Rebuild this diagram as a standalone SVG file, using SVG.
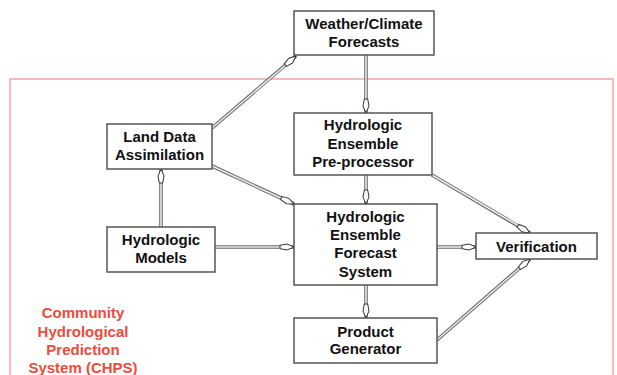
<svg xmlns="http://www.w3.org/2000/svg" width="617" height="375" viewBox="0 0 617 375">
<style>
.box{fill:#fff;stroke:#555;stroke-width:1.5}
.t{font-family:"Liberation Sans",Arial,sans-serif;font-weight:bold;font-size:15px;fill:#111;text-anchor:middle}
.r{fill:#ec4b3c}
.o{stroke:#6a6a6a;stroke-width:3.6;fill:none}
.i{stroke:#eaeaea;stroke-width:1.6;fill:none}
.h{stroke:none;fill:none;marker-end:url(#ah)}
</style>
<defs>
<marker id="ah" markerUnits="userSpaceOnUse" markerWidth="20" markerHeight="12" viewBox="-17 -6 20 12" refX="0" refY="0" orient="auto">
<path d="M0,0 L-7,-3 L-14,-1.7 L-14,1.7 L-7,3 Z" fill="#fff" stroke="#333" stroke-width="1"/>
</marker>
</defs>
<rect x="10" y="79" width="603" height="310" fill="none" stroke="#f4a4a4" stroke-width="1.5"/>
<g id="connectors">
<path class="o" d="M366,55 L366,113"/><path class="i" d="M366,55 L366,101"/><path class="h" d="M366,55 L366,113"/>
<path class="o" d="M212,128 L296,56"/><path class="i" d="M212,128 L287,64"/><path class="h" d="M212,128 L296,56"/>
<path class="o" d="M212,166 L294,204"/><path class="i" d="M212,166 L283,199"/><path class="h" d="M212,166 L294,204"/>
<path class="o" d="M161,227 L161,169"/><path class="i" d="M161,227 L161,181"/><path class="h" d="M161,227 L161,169"/>
<path class="o" d="M215,247 L294,247"/><path class="i" d="M215,247 L282,247"/><path class="h" d="M215,247 L294,247"/>
<path class="o" d="M366,175 L366,204"/><path class="i" d="M366,175 L366,192"/><path class="h" d="M366,175 L366,204"/>
<path class="o" d="M432,175 L530,233"/><path class="i" d="M432,175 L519,226"/><path class="h" d="M432,175 L530,233"/>
<path class="o" d="M437,247 L476,247"/><path class="i" d="M437,247 L464,247"/><path class="h" d="M437,247 L476,247"/>
<path class="o" d="M366,285 L366,318"/><path class="i" d="M366,285 L366,306"/><path class="h" d="M366,285 L366,318"/>
<path class="o" d="M437,340 L530,259"/><path class="i" d="M437,340 L521,267"/><path class="h" d="M437,340 L530,259"/>
</g>
<g id="weather"><rect class="box" x="294" y="11" width="140" height="44"/>
<text class="t" x="364" y="29">Weather/Climate</text><text class="t" x="364" y="47">Forecasts</text></g>
<g id="landdata"><rect class="box" x="107" y="124" width="105" height="45"/>
<text class="t" x="159.5" y="142">Land Data</text><text class="t" x="159.5" y="160">Assimilation</text></g>
<g id="preproc"><rect class="box" x="294" y="113" width="138" height="62"/>
<text class="t" x="363" y="130">Hydrologic</text><text class="t" x="363" y="149">Ensemble</text><text class="t" x="363" y="167">Pre-processor</text></g>
<g id="models"><rect class="box" x="107" y="227" width="108" height="45"/>
<text class="t" x="161" y="245">Hydrologic</text><text class="t" x="161" y="263">Models</text></g>
<g id="forecast"><rect class="box" x="294" y="204" width="143" height="81"/>
<text class="t" x="365.5" y="222">Hydrologic</text><text class="t" x="365.5" y="240">Ensemble</text><text class="t" x="365.5" y="258">Forecast</text><text class="t" x="365.5" y="277">System</text></g>
<g id="verification"><rect class="box" x="476" y="233" width="121" height="26"/>
<text class="t" x="536.5" y="252">Verification</text></g>
<g id="product"><rect class="box" x="294" y="318" width="143" height="45"/>
<text class="t" x="365.5" y="337">Product</text><text class="t" x="365.5" y="354">Generator</text></g>
<g id="chps">
<text class="t r" x="83" y="318">Community</text><text class="t r" x="83" y="337">Hydrological</text><text class="t r" x="83" y="355">Prediction</text><text class="t r" x="83" y="373">System (CHPS)</text></g>
</svg>
